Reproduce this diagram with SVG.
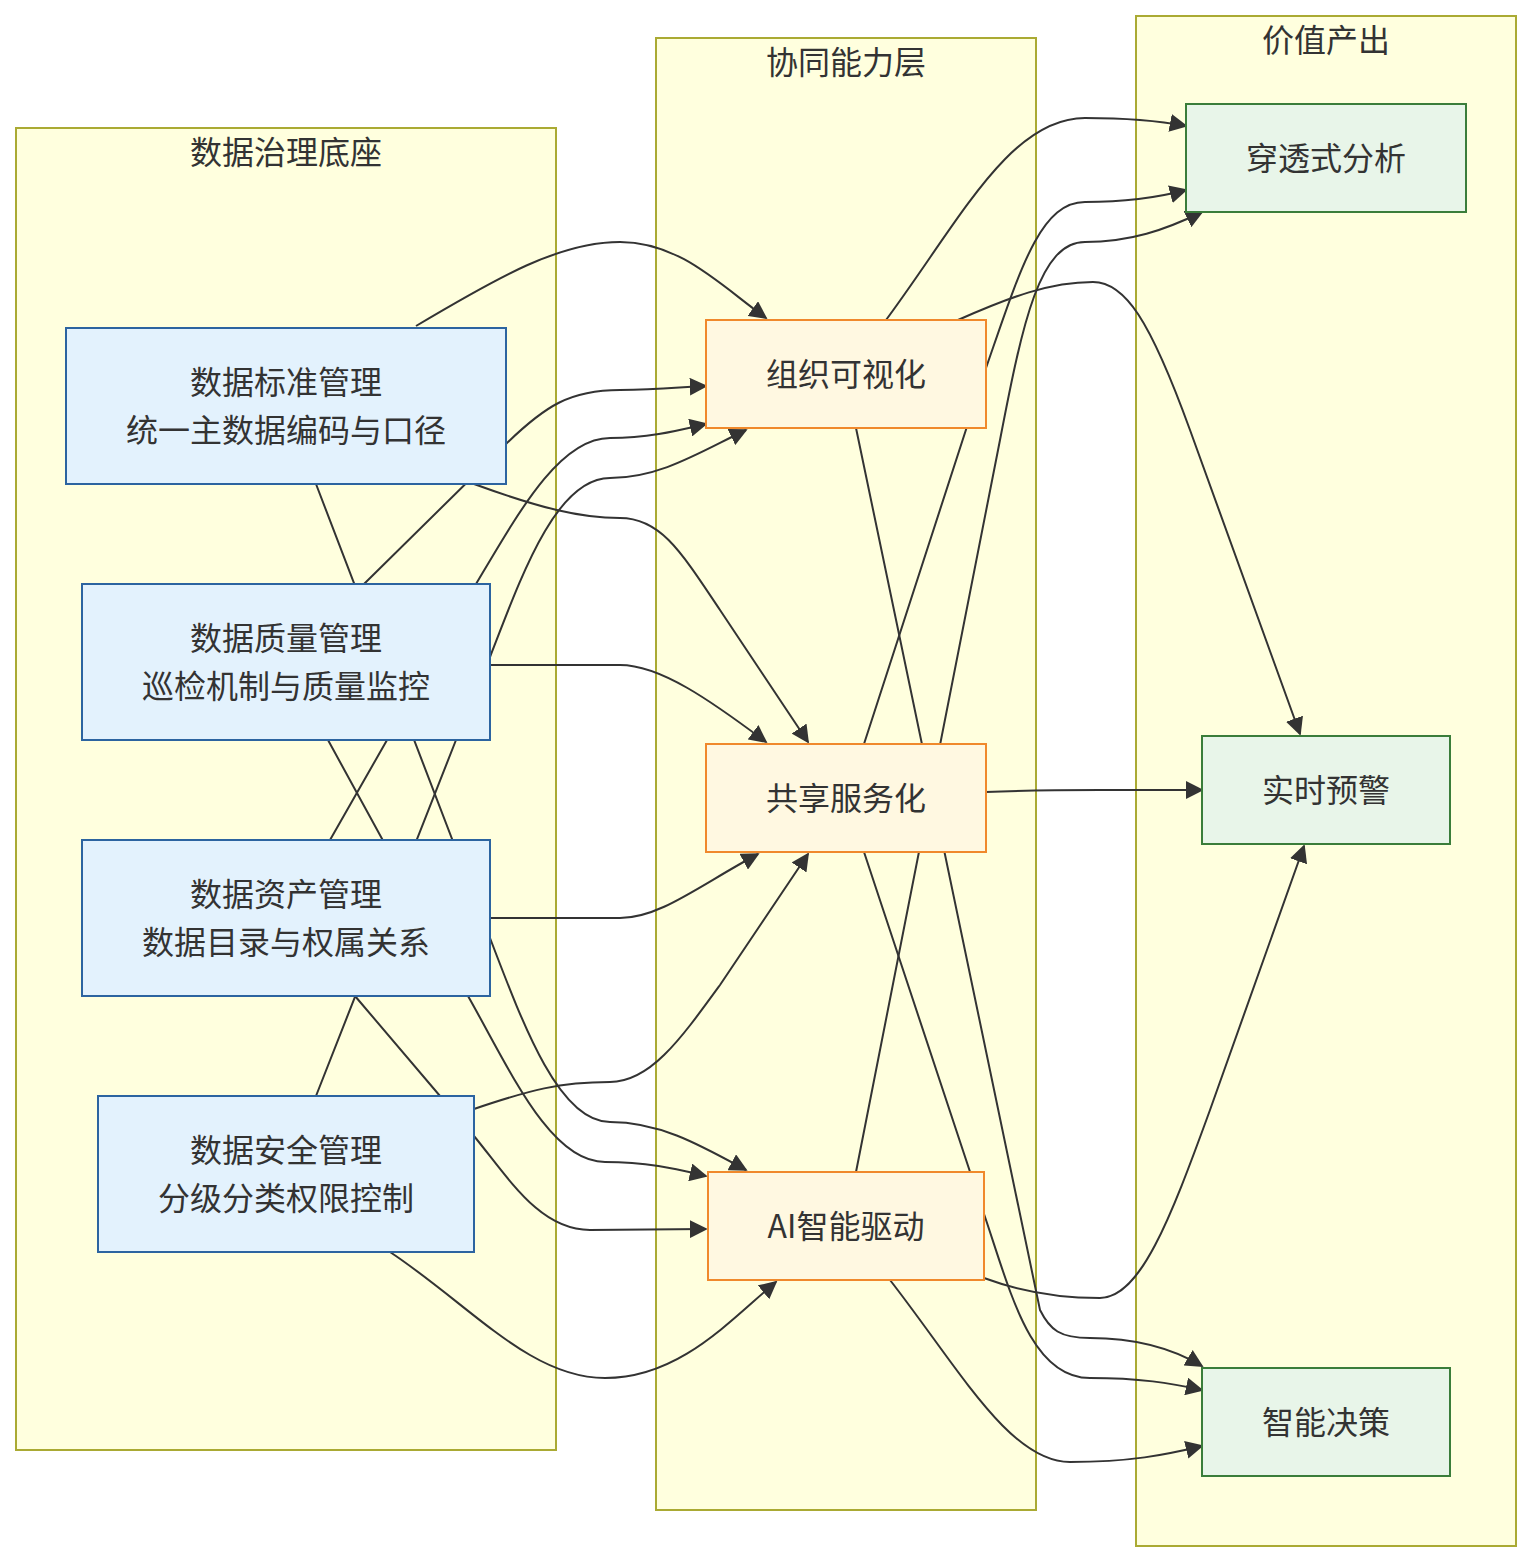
<svg xmlns="http://www.w3.org/2000/svg" width="1532" height="1562" viewBox="0 0 1532 1562">
<defs>
<style>
.cluster{fill:#ffffde;stroke:#aaaa33;stroke-width:2}
.ct{font-family:"Noto Sans CJK SC","Noto Sans",sans-serif;font-size:32px;fill:#333;text-anchor:middle;dominant-baseline:central}
.edge{fill:none;stroke:#333;stroke-width:2;marker-end:url(#arr)}
.gov{fill:#e3f2fd;stroke:#2c64a0;stroke-width:2}
.cap{fill:#fff8e1;stroke:#f0892c;stroke-width:2}
.val{fill:#e8f5e9;stroke:#3a7d3a;stroke-width:2}
.t{font-family:"Noto Sans CJK SC","Noto Sans",sans-serif;font-size:32px;fill:#333;text-anchor:middle;dominant-baseline:central}
</style>
<marker id="arr" viewBox="0 0 10 10" refX="9" refY="5" markerUnits="userSpaceOnUse" markerWidth="18" markerHeight="18" orient="auto">
<path d="M0,0 L10,5 L0,10 z" fill="#333"/>
</marker>
</defs>
<rect width="1532" height="1562" fill="#ffffff"/>
<g id="clusters">
<g id="cluster-governance"><rect class="cluster" x="16" y="128" width="540" height="1322"/><text class="ct" x="286" y="150">数据治理底座</text></g>
<g id="cluster-capability"><rect class="cluster" x="656" y="38" width="380" height="1472"/><text class="ct" x="846" y="60">协同能力层</text></g>
<g id="cluster-value"><rect class="cluster" x="1136" y="16" width="380" height="1530"/><text class="ct" x="1326" y="38">价值产出</text></g>
</g>
<g id="connectors">
<path class="edge" d="M416,326 C500,276 560,242 620,242 C680,242 720,285 766,318"/>
<path class="edge" d="M364,584 L506,444 C545,406 570,390 620,390 C660,390 680,387 706,386"/>
<path class="edge" d="M330,840 L476,584 C520,510 560,438 610,438 C650,438 680,430 706,424"/>
<path class="edge" d="M316,1096 L456,740 L490,657 C520,580 555,478 610,478 C660,478 700,452 746,430"/>
<path class="edge" d="M474,484 C540,508 580,518 620,518 C660,518 680,550 720,610 L808,742"/>
<path class="edge" d="M490,665 L620,665 C660,665 710,700 766,742"/>
<path class="edge" d="M490,918 L620,918 C660,918 700,885 758,854"/>
<path class="edge" d="M474,1109 C530,1090 560,1082 610,1082 C650,1082 680,1040 720,985 L808,854"/>
<path class="edge" d="M316,484 L490,938 C525,1030 560,1122 610,1122 C660,1122 700,1145 746,1170"/>
<path class="edge" d="M328,740 L468,996 C510,1070 550,1162 605,1162 C650,1162 680,1170 706,1176"/>
<path class="edge" d="M355,996 L474,1136 C510,1180 540,1230 590,1230 L706,1229"/>
<path class="edge" d="M390,1252 C470,1305 530,1378 605,1378 C680,1378 730,1320 776,1282"/>
<path class="edge" d="M886,320 C960,220 1010,118 1085,118 C1130,118 1160,121 1186,126"/>
<path class="edge" d="M864,744 L986,368 C1020,270 1040,202 1085,202 C1130,202 1160,197 1186,190"/>
<path class="edge" d="M856,1172 L1000,440 C1023,320 1040,242 1085,242 C1130,242 1165,230 1202,212"/>
<path class="edge" d="M958,320 C1010,297 1050,282 1093,282 C1125,282 1150,320 1190,430 L1300,734"/>
<path class="edge" d="M986,792 C1030,790 1060,790 1100,790 L1202,790"/>
<path class="edge" d="M984,1278 C1030,1295 1070,1298 1100,1298 C1140,1298 1170,1220 1210,1110 L1304,846"/>
<path class="edge" d="M856,428 L1040,1310 C1050,1330 1060,1338 1090,1338 C1140,1338 1175,1350 1202,1366"/>
<path class="edge" d="M864,852 L984,1214 C1010,1290 1030,1378 1090,1378 C1140,1378 1170,1383 1202,1390"/>
<path class="edge" d="M890,1280 C960,1370 1010,1462 1070,1462 C1130,1462 1165,1455 1202,1446"/>
</g>
<g id="node-standard"><rect class="gov" x="66" y="328" width="440" height="156"/><text class="t" x="286" y="380">数据标准管理</text><text class="t" x="286" y="428">统一主数据编码与口径</text></g>
<g id="node-quality"><rect class="gov" x="82" y="584" width="408" height="156"/><text class="t" x="286" y="636">数据质量管理</text><text class="t" x="286" y="684">巡检机制与质量监控</text></g>
<g id="node-asset"><rect class="gov" x="82" y="840" width="408" height="156"/><text class="t" x="286" y="892">数据资产管理</text><text class="t" x="286" y="940">数据目录与权属关系</text></g>
<g id="node-security"><rect class="gov" x="98" y="1096" width="376" height="156"/><text class="t" x="286" y="1148">数据安全管理</text><text class="t" x="286" y="1196">分级分类权限控制</text></g>
<g id="node-visual"><rect class="cap" x="706" y="320" width="280" height="108"/><text class="t" x="846" y="372">组织可视化</text></g>
<g id="node-service"><rect class="cap" x="706" y="744" width="280" height="108"/><text class="t" x="846" y="796">共享服务化</text></g>
<g id="node-ai"><rect class="cap" x="708" y="1172" width="276" height="108"/><text class="t" x="846" y="1224">AI智能驱动</text></g>
<g id="node-penetrate"><rect class="val" x="1186" y="104" width="280" height="108"/><text class="t" x="1326" y="156">穿透式分析</text></g>
<g id="node-alert"><rect class="val" x="1202" y="736" width="248" height="108"/><text class="t" x="1326" y="788">实时预警</text></g>
<g id="node-decision"><rect class="val" x="1202" y="1368" width="248" height="108"/><text class="t" x="1326" y="1420">智能决策</text></g>
</svg>
